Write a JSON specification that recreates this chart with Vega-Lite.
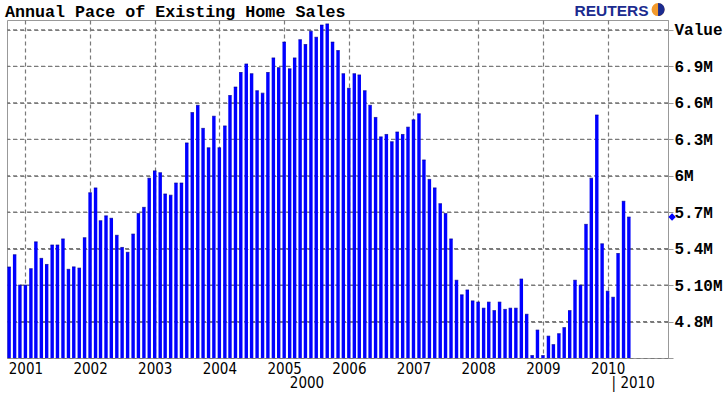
{
  "$schema": "https://vega.github.io/schema/vega-lite/v6.json",
  "width": 661,
  "height": 338,
  "autosize": {"type": "none"},
  "padding": {"left": 7, "top": 20, "right": 60, "bottom": 35},
  "background": "white",
  "title": {"text": "Annual Pace of Existing Home Sales", "anchor": "start", "frame": "group", "font": "Liberation Mono", "fontSize": 16.7, "fontWeight": "bold", "color": "#000000", "offset": 0, "dx": -2, "dy": 18},
  "config": {
    "view": {"stroke": "#999999", "strokeWidth": 1},
    "axis": {"grid": true, "gridColor": "#7a7a7a", "gridDash": [4, 3], "gridWidth": 1.2, "gridOpacity": 1, "labelOverlap": false, "labelFlush": false}
  },
  "datasets": {
    "sales": [
      {"d": "2000-10-01", "v": 5.25}, {"d": "2000-11-01", "v": 5.35}, {"d": "2000-12-01", "v": 5.10},
      {"d": "2001-01-01", "v": 5.10}, {"d": "2001-02-01", "v": 5.235}, {"d": "2001-03-01", "v": 5.456}, {"d": "2001-04-01", "v": 5.32}, {"d": "2001-05-01", "v": 5.27}, {"d": "2001-06-01", "v": 5.43}, {"d": "2001-07-01", "v": 5.43}, {"d": "2001-08-01", "v": 5.48}, {"d": "2001-09-01", "v": 5.23}, {"d": "2001-10-01", "v": 5.25}, {"d": "2001-11-01", "v": 5.24}, {"d": "2001-12-01", "v": 5.49},
      {"d": "2002-01-01", "v": 5.86}, {"d": "2002-02-01", "v": 5.90}, {"d": "2002-03-01", "v": 5.63}, {"d": "2002-04-01", "v": 5.67}, {"d": "2002-05-01", "v": 5.65}, {"d": "2002-06-01", "v": 5.51}, {"d": "2002-07-01", "v": 5.41}, {"d": "2002-08-01", "v": 5.37}, {"d": "2002-09-01", "v": 5.52}, {"d": "2002-10-01", "v": 5.69}, {"d": "2002-11-01", "v": 5.74}, {"d": "2002-12-01", "v": 5.98},
      {"d": "2003-01-01", "v": 6.04}, {"d": "2003-02-01", "v": 6.025}, {"d": "2003-03-01", "v": 5.85}, {"d": "2003-04-01", "v": 5.84}, {"d": "2003-05-01", "v": 5.94}, {"d": "2003-06-01", "v": 5.94}, {"d": "2003-07-01", "v": 6.27}, {"d": "2003-08-01", "v": 6.52}, {"d": "2003-09-01", "v": 6.58}, {"d": "2003-10-01", "v": 6.39}, {"d": "2003-11-01", "v": 6.23}, {"d": "2003-12-01", "v": 6.49},
      {"d": "2004-01-01", "v": 6.23}, {"d": "2004-02-01", "v": 6.41}, {"d": "2004-03-01", "v": 6.66}, {"d": "2004-04-01", "v": 6.73}, {"d": "2004-05-01", "v": 6.85}, {"d": "2004-06-01", "v": 6.92}, {"d": "2004-07-01", "v": 6.84}, {"d": "2004-08-01", "v": 6.70}, {"d": "2004-09-01", "v": 6.68}, {"d": "2004-10-01", "v": 6.85}, {"d": "2004-11-01", "v": 6.97}, {"d": "2004-12-01", "v": 6.89},
      {"d": "2005-01-01", "v": 7.10}, {"d": "2005-02-01", "v": 6.88}, {"d": "2005-03-01", "v": 6.97}, {"d": "2005-04-01", "v": 7.12}, {"d": "2005-05-01", "v": 7.08}, {"d": "2005-06-01", "v": 7.19}, {"d": "2005-07-01", "v": 7.14}, {"d": "2005-08-01", "v": 7.24}, {"d": "2005-09-01", "v": 7.25}, {"d": "2005-10-01", "v": 7.10}, {"d": "2005-11-01", "v": 7.03}, {"d": "2005-12-01", "v": 6.84},
      {"d": "2006-01-01", "v": 6.72}, {"d": "2006-02-01", "v": 6.84}, {"d": "2006-03-01", "v": 6.83}, {"d": "2006-04-01", "v": 6.70}, {"d": "2006-05-01", "v": 6.58}, {"d": "2006-06-01", "v": 6.48}, {"d": "2006-07-01", "v": 6.32}, {"d": "2006-08-01", "v": 6.34}, {"d": "2006-09-01", "v": 6.28}, {"d": "2006-10-01", "v": 6.36}, {"d": "2006-11-01", "v": 6.34}, {"d": "2006-12-01", "v": 6.40},
      {"d": "2007-01-01", "v": 6.46}, {"d": "2007-02-01", "v": 6.51}, {"d": "2007-03-01", "v": 6.13}, {"d": "2007-04-01", "v": 5.97}, {"d": "2007-05-01", "v": 5.90}, {"d": "2007-06-01", "v": 5.77}, {"d": "2007-07-01", "v": 5.69}, {"d": "2007-08-01", "v": 5.48}, {"d": "2007-09-01", "v": 5.14}, {"d": "2007-10-01", "v": 5.02}, {"d": "2007-11-01", "v": 5.06}, {"d": "2007-12-01", "v": 4.97},
      {"d": "2008-01-01", "v": 4.96}, {"d": "2008-02-01", "v": 4.91}, {"d": "2008-03-01", "v": 4.96}, {"d": "2008-04-01", "v": 4.89}, {"d": "2008-05-01", "v": 4.96}, {"d": "2008-06-01", "v": 4.90}, {"d": "2008-07-01", "v": 4.91}, {"d": "2008-08-01", "v": 4.91}, {"d": "2008-09-01", "v": 5.15}, {"d": "2008-10-01", "v": 4.86}, {"d": "2008-11-01", "v": 4.52}, {"d": "2008-12-01", "v": 4.73},
      {"d": "2009-01-01", "v": 4.52}, {"d": "2009-02-01", "v": 4.68}, {"d": "2009-03-01", "v": 4.61}, {"d": "2009-04-01", "v": 4.70}, {"d": "2009-05-01", "v": 4.75}, {"d": "2009-06-01", "v": 4.89}, {"d": "2009-07-01", "v": 5.14}, {"d": "2009-08-01", "v": 5.10}, {"d": "2009-09-01", "v": 5.60}, {"d": "2009-10-01", "v": 5.98}, {"d": "2009-11-01", "v": 6.50}, {"d": "2009-12-01", "v": 5.44},
      {"d": "2010-01-01", "v": 5.05}, {"d": "2010-02-01", "v": 5.00}, {"d": "2010-03-01", "v": 5.36}, {"d": "2010-04-01", "v": 5.79}, {"d": "2010-05-01", "v": 5.66}
    ],
    "gridvals": [{"g": 4.8}, {"g": 5.1}, {"g": 5.4}, {"g": 5.7}, {"g": 6.0}, {"g": 6.3}, {"g": 6.6}, {"g": 6.9}, {"g": 7.2}],
    "decade1": [{"d": "2005-05-10", "t": "2000"}],
    "decade2": [{"d": "2010-01-01", "t": "| 2010"}],
    "marker": [{"d": "2010-12-31", "v": 5.66}],
    "logo": [{"d": "2010-01-23", "v": 7.319, "t": "REUTERS"}],
    "globe": [{"d": "2010-10-13", "v": 7.368}]
  },
  "layer": [
    {
      "data": {"name": "gridvals"},
      "mark": {"type": "rule", "color": "#7a7a7a", "strokeDash": [4, 3], "strokeWidth": 1.2},
      "encoding": {
        "y": {"field": "g", "type": "quantitative", "scale": {"domain": [4.5, 7.282], "zero": false, "nice": false, "padding": 0}, "axis": {"orient": "right", "grid": true}}
      }
    },
    {
      "data": {"name": "sales"},
      "mark": {"type": "bar", "color": "#0000ff", "width": 3.4},
      "encoding": {
        "x": {
          "field": "d", "type": "temporal",
          "scale": {"type": "utc", "domain": [969321600000, 1291766400000], "nice": false, "padding": 0},
          "axis": {"orient": "bottom", "title": null, "format": "%Y", "tickCount": "year", "domain": false, "ticks": false, "grid": true, "labelFont": "DejaVu Sans Condensed", "labelFontSize": 15, "labelColor": "#000000", "labelPadding": 3, "labelDx": 2, "labelAlign": "center", "labelBaseline": "top"}
        },
        "y": {
          "field": "v", "type": "quantitative",
          "scale": {"domain": [4.5, 7.282], "zero": false, "nice": false, "padding": 0},
          "axis": {
            "orient": "right", "title": null, "tickCount": 30,
            "values": [4.5, 4.8, 5.1, 5.4, 5.7, 6.0, 6.3, 6.6, 6.9, 7.2],
            "labelExpr": "datum.value > 7.1 ? 'Value' : (datum.value < 4.6 ? '' : (abs(datum.value - 5.1) < 0.01 ? '5.10M' : format(datum.value, '.2~f') + 'M'))",
            "domain": true, "domainColor": "#999999", "ticks": true, "tickColor": "#999999", "tickSize": 5,
            "grid": true, "labelFont": "Liberation Mono", "labelFontWeight": "bold", "labelFontSize": 16, "labelColor": "#000000", "labelPadding": 1
          }
        },
        "y2": {"datum": 4.5}
      }
    },
    {
      "data": {"name": "sales"},
      "mark": {"type": "tick", "orient": "horizontal", "color": "#00008b", "size": 3.4, "thickness": 1},
      "encoding": {
        "x": {"field": "d", "type": "temporal", "scale": {"type": "utc", "domain": [969321600000, 1291766400000], "nice": false, "padding": 0}, "axis": {"orient": "bottom", "grid": true}},
        "y": {"field": "v", "type": "quantitative", "scale": {"domain": [4.5, 7.282], "zero": false, "nice": false, "padding": 0}, "axis": {"orient": "right", "grid": true}}
      }
    },
    {
      "data": {"name": "decade1"},
      "mark": {"type": "text", "font": "DejaVu Sans Condensed", "fontSize": 15, "color": "#000000", "baseline": "top", "align": "center", "dy": 18},
      "encoding": {
        "x": {"field": "d", "type": "temporal", "scale": {"type": "utc", "domain": [969321600000, 1291766400000], "nice": false, "padding": 0}, "axis": {"orient": "bottom", "grid": true}},
        "y": {"datum": 4.5, "type": "quantitative", "scale": {"domain": [4.5, 7.282], "zero": false, "nice": false, "padding": 0}, "axis": {"orient": "right", "grid": true}},
        "text": {"field": "t"}
      }
    },
    {
      "data": {"name": "decade2"},
      "mark": {"type": "text", "font": "DejaVu Sans Condensed", "fontSize": 15, "color": "#000000", "baseline": "top", "align": "left", "dy": 18, "dx": 4},
      "encoding": {
        "x": {"field": "d", "type": "temporal", "scale": {"type": "utc", "domain": [969321600000, 1291766400000], "nice": false, "padding": 0}, "axis": {"orient": "bottom", "grid": true}},
        "y": {"datum": 4.5, "type": "quantitative", "scale": {"domain": [4.5, 7.282], "zero": false, "nice": false, "padding": 0}, "axis": {"orient": "right", "grid": true}},
        "text": {"field": "t"}
      }
    },
    {
      "data": {"name": "marker"},
      "mark": {"type": "point", "shape": "diamond", "filled": true, "color": "#0000ff", "size": 55, "opacity": 1, "clip": false},
      "encoding": {
        "x": {"field": "d", "type": "temporal", "scale": {"type": "utc", "domain": [969321600000, 1291766400000], "nice": false, "padding": 0}, "axis": {"orient": "bottom", "grid": true}},
        "y": {"field": "v", "type": "quantitative", "scale": {"domain": [4.5, 7.282], "zero": false, "nice": false, "padding": 0}, "axis": {"orient": "right", "grid": true}}
      }
    },
    {
      "data": {"name": "logo"},
      "mark": {"type": "text", "font": "Liberation Sans", "fontWeight": "bold", "fontSize": 15.5, "color": "#1b2b8f", "align": "center", "baseline": "alphabetic"},
      "encoding": {
        "x": {"field": "d", "type": "temporal", "scale": {"type": "utc", "domain": [969321600000, 1291766400000], "nice": false, "padding": 0}, "axis": {"orient": "bottom", "grid": true}},
        "y": {"field": "v", "type": "quantitative", "scale": {"domain": [4.5, 7.282], "zero": false, "nice": false, "padding": 0}, "axis": {"orient": "right", "grid": true}},
        "text": {"field": "t"}
      }
    },
    {
      "data": {"name": "globe"},
      "mark": {"type": "point", "shape": "circle", "filled": true, "color": "#f39a2c", "size": 170, "opacity": 1},
      "encoding": {
        "x": {"field": "d", "type": "temporal", "scale": {"type": "utc", "domain": [969321600000, 1291766400000], "nice": false, "padding": 0}, "axis": {"orient": "bottom", "grid": true}},
        "y": {"field": "v", "type": "quantitative", "scale": {"domain": [4.5, 7.282], "zero": false, "nice": false, "padding": 0}, "axis": {"orient": "right", "grid": true}}
      }
    },
    {
      "data": {"name": "globe"},
      "mark": {"type": "point", "shape": "M0,-1A1,1 0 0,1 0,1Z", "filled": true, "color": "#1b2b8f", "size": 170, "opacity": 1},
      "encoding": {
        "x": {"field": "d", "type": "temporal", "scale": {"type": "utc", "domain": [969321600000, 1291766400000], "nice": false, "padding": 0}, "axis": {"orient": "bottom", "grid": true}},
        "y": {"field": "v", "type": "quantitative", "scale": {"domain": [4.5, 7.282], "zero": false, "nice": false, "padding": 0}, "axis": {"orient": "right", "grid": true}}
      }
    }
  ]
}
